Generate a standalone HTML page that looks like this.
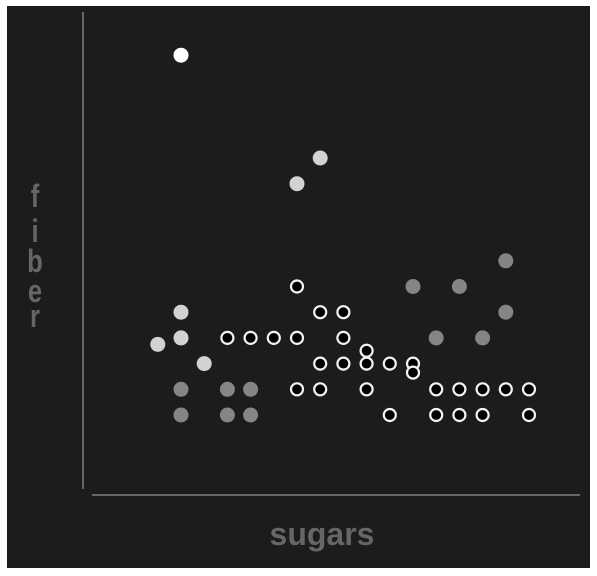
<!DOCTYPE html>
<html><head><meta charset="utf-8"><style>
html,body{margin:0;padding:0;background:#fff;width:597px;height:576px;overflow:hidden}
svg{display:block}
</style></head><body>
<svg id="chart" width="597" height="576" xmlns="http://www.w3.org/2000/svg">
<rect x="7" y="6" width="583" height="562" fill="#1c1c1c"/>
<line x1="83" y1="12" x2="83" y2="489" stroke="#666" stroke-width="2"/>
<line x1="92" y1="495" x2="580" y2="495" stroke="#666" stroke-width="2"/>
<text x="322" y="545" text-anchor="middle" font-family="Liberation Sans, sans-serif" font-weight="bold" font-size="32" fill="#666">sugars</text>
<g transform="translate(35,0) scale(0.8,1)">
<text font-family="Liberation Sans, sans-serif" font-weight="bold" font-size="32" fill="#666" text-anchor="middle">
<tspan x="0" y="207">f</tspan><tspan x="0" y="242">i</tspan><tspan x="0" y="272">b</tspan><tspan x="0" y="302">e</tspan><tspan x="0" y="327">r</tspan></text>
</g>
<g id="points"></g>
</svg>
<script>
const sugarsGrey=[10,12,14,11,13,14,0,2,3,0,2,3];
const fiberGrey=[5,5,4,3,3,6,1,1,1,0,0,0];
const sugarsLight=[0,0,-1,1,5,6];
const fiberLight=[4,3,2.75,2,9,10];
const sugarsWhite=[0];
const fiberWhite=[14];
const sugarsHollow=[5,6,7,2,3,4,5,7,8,6,7,8,9,10,10,5,6,8,11,12,13,14,15,9,11,12,13,15];
const fiberHollow=[5,4,4,3,3,3,3,3,2.5,2,2,2,2,2,1.65,1,1,1,1,1,1,1,1,0,0,0,0,0];
function xs(s){return 181+23.2*s;}
function ys(f){return 415-25.7*f;}
const g=document.getElementById('points');
const NS='http://www.w3.org/2000/svg';
function draw(sx,fy,fill,stroke,name){
  for(let i=0;i<sx.length;i++){
    const c=document.createElementNS(NS,'circle');
    c.setAttribute('cx',xs(sx[i]));c.setAttribute('cy',ys(fy[i]));
    if(stroke){c.setAttribute('r',6);c.setAttribute('fill','#000');c.setAttribute('stroke',stroke);c.setAttribute('stroke-width',2.2);}
    else{c.setAttribute('r',7.5);c.setAttribute('fill',fill);}
    
    
    g.appendChild(c);
  }
}
draw(sugarsGrey,fiberGrey,'#858585',null,'point-grey');
draw(sugarsLight,fiberLight,'#d2d2d2',null,'point-light');
draw(sugarsWhite,fiberWhite,'#ffffff',null,'point-white');
draw(sugarsHollow,fiberHollow,null,'#f2f2f2','point-hollow');
</script>
</body></html>
